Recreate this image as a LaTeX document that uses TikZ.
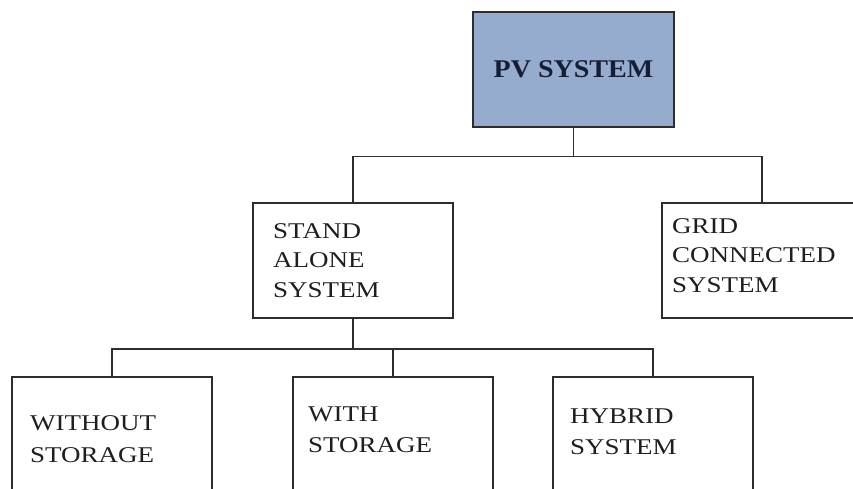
\documentclass[tikz,border=0pt]{standalone}
\usepackage{fontspec}
\setmainfont{Liberation Serif}[FakeStretch=1.2]
\newfontfamily\pvfont{Liberation Serif}[FakeStretch=1.1]
\definecolor{pvblue}{RGB}{150,172,206}
\definecolor{boxcol}{RGB}{45,45,45}
\definecolor{linecol}{RGB}{45,45,45}
\definecolor{txtcol}{RGB}{30,30,30}
\definecolor{pvtxt}{RGB}{22,30,52}
\begin{document}
\begin{tikzpicture}[x=1pt,y=-1pt,
  box/.style={draw=boxcol, line width=1.3pt, rectangle, inner sep=0pt, minimum width=200pt},
  connector/.style={draw=linecol, line width=1.7pt},
  lbl/.style={anchor=base west, inner sep=0pt, text=txtcol, align=left}]
\useasboundingbox (0,0) rectangle (853,489);
\clip (0,0) rectangle (853,489);
% boxes
\node[box, fill=pvblue, minimum width=201pt, minimum height=115pt,
      font=\pvfont\bfseries\fontsize{25.5}{30}\selectfont, text=pvtxt] (pv) at (573.5,69.5) {PV SYSTEM};
\node[box, minimum height=115pt] (stand) at (353,260.5) {};
\node[box, minimum height=115pt] (grid) at (762,260.5) {};
\node[box, minimum height=140pt] (without) at (112,447) {};
\node[box, minimum height=140pt] (with) at (393,447) {};
\node[box, minimum height=140pt] (hybrid) at (653,447) {};
% connectors
\draw[connector] (pv.south) -- ++(0,29) -| (stand.north);
\draw[connector] (pv.south) ++(0,29) -| (grid.north);
\draw[connector] (stand.south) -- ++(0,30) -| (without.north);
\draw[connector] (stand.south) ++(0,30) -| (with.north);
\draw[connector] (stand.south) ++(0,30) -| (hybrid.north);
% labels (anchor = baseline of last line)
\node[lbl, font=\fontsize{22.5}{29.5}\selectfont] (tstand) at (273,297) {STAND\\ALONE\\SYSTEM};
\node[lbl, font=\fontsize{22.5}{29.5}\selectfont] (tgrid) at (672,292) {GRID\\CONNECTED\\SYSTEM};
\node[lbl, font=\fontsize{22.5}{32}\selectfont] (twithout) at (30,462) {WITHOUT\\STORAGE};
\node[lbl, font=\fontsize{22.5}{31}\selectfont] (twith) at (308,452) {WITH\\STORAGE};
\node[lbl, font=\fontsize{22.5}{31}\selectfont] (thybrid) at (570,454) {HYBRID\\SYSTEM};
\end{tikzpicture}
\end{document}
